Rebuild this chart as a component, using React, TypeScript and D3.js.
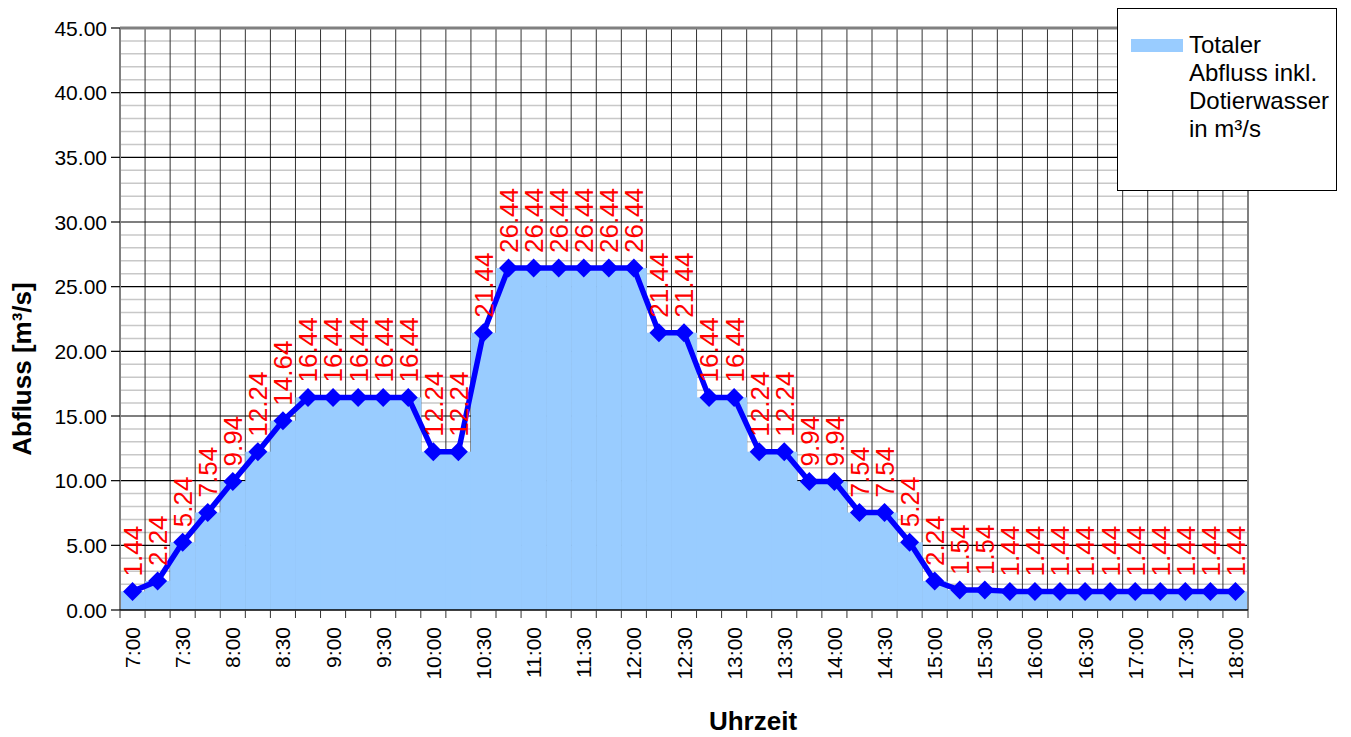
import React from "react";
import * as d3 from "d3";

const times = [
  "7:00", "7:15", "7:30", "7:45", "8:00", "8:15", "8:30", "8:45",
  "9:00", "9:15", "9:30", "9:45", "10:00", "10:15", "10:30", "10:45",
  "11:00", "11:15", "11:30", "11:45", "12:00", "12:15", "12:30", "12:45",
  "13:00", "13:15", "13:30", "13:45", "14:00", "14:15", "14:30", "14:45",
  "15:00", "15:15", "15:30", "15:45", "16:00", "16:15", "16:30", "16:45",
  "17:00", "17:15", "17:30", "17:45", "18:00",
];

const abfluss = [
  1.44, 2.24, 5.24, 7.54, 9.94, 12.24, 14.64, 16.44,
  16.44, 16.44, 16.44, 16.44, 12.24, 12.24, 21.44, 26.44,
  26.44, 26.44, 26.44, 26.44, 26.44, 21.44, 21.44, 16.44,
  16.44, 12.24, 12.24, 9.94, 9.94, 7.54, 7.54, 5.24,
  2.24, 1.54, 1.54, 1.44, 1.44, 1.44, 1.44, 1.44,
  1.44, 1.44, 1.44, 1.44, 1.44,
];

const xTickLabels = [
  "7:00", "7:30", "8:00", "8:30", "9:00", "9:30", "10:00", "10:30",
  "11:00", "11:30", "12:00", "12:30", "13:00", "13:30", "14:00", "14:30",
  "15:00", "15:30", "16:00", "16:30", "17:00", "17:30", "18:00",
];

const yMajorTicks = [0, 5, 10, 15, 20, 25, 30, 35, 40, 45];
const yMinorTicks = d3.range(0, 46, 1);

const legendLines = ["Totaler", "Abfluss inkl.", "Dotierwasser", "in m³/s"];

const W = 1351;
const H = 737;
const L = 120;
const R = 1248;
const T = 28;
const B = 610;
const FONT = "'Liberation Sans', Arial, sans-serif";

export default function App() {
  const x = d3.scaleBand<string>().domain(times).range([L, R]).padding(0);
  const y = d3.scaleLinear().domain([0, 45]).range([B, T]);
  const bw = x.bandwidth();
  const cx = (t: string) => (x(t) as number) + bw / 2;

  const line = d3
    .line<number>()
    .x((_, i) => cx(times[i]))
    .y((d) => y(d));

  const boundaries = times.map((t) => x(t) as number).concat([R]);

  return (
    <svg
      width={W}
      height={H}
      style={{ position: "absolute", left: 0, top: 0, display: "block", background: "#fff" }}
      fontFamily={FONT}
    >
      {/* minor horizontal gridlines */}
      {yMinorTicks
        .filter((v) => v % 5 !== 0)
        .map((v) => (
          <line key={"mn" + v} x1={L} x2={R} y1={y(v)} y2={y(v)} stroke="#c8c8c8" strokeWidth={1.5} />
        ))}
      {/* vertical gridlines */}
      {boundaries.slice(1, -1).map((bx, i) => (
        <line key={"vg" + i} x1={bx} x2={bx} y1={T} y2={B} stroke="#333" strokeWidth={1} />
      ))}
      {/* major horizontal gridlines */}
      {yMajorTicks
        .filter((v) => v !== 0 && v !== 45)
        .map((v) => (
          <line key={"mj" + v} x1={L} x2={R} y1={y(v)} y2={y(v)} stroke="#000" strokeWidth={1.2} />
        ))}

      {/* area as stepped columns */}
      {abfluss.map((v, i) => (
        <rect
          key={"a" + i}
          x={x(times[i]) as number}
          y={y(v)}
          width={bw + 0.5}
          height={B - y(v)}
          fill="#99CCFF"
        />
      ))}

      {/* plot border */}
      <line x1={L} x2={R} y1={T} y2={T} stroke="#808080" strokeWidth={3} />
      <line x1={R} x2={R} y1={T} y2={B} stroke="#808080" strokeWidth={2} />
      <line x1={L} x2={L} y1={T} y2={B} stroke="#808080" strokeWidth={2} />
      <line x1={L} x2={R} y1={B} y2={B} stroke="#000" strokeWidth={1.5} />

      {/* y ticks */}
      {yMajorTicks.map((v) => (
        <g key={"yt" + v}>
          <line x1={L - 9} x2={L} y1={y(v)} y2={y(v)} stroke="#000" strokeWidth={1.2} />
          <text x={L - 13} y={y(v)} dy="0.36em" textAnchor="end" fontSize={21} fill="#000">
            {v.toFixed(2)}
          </text>
        </g>
      ))}

      {/* x ticks */}
      {boundaries.map((bx, i) => (
        <line key={"xt" + i} x1={bx} x2={bx} y1={B} y2={B + 8} stroke="#333" strokeWidth={1} />
      ))}
      {xTickLabels.map((t) => (
        <text
          key={"xl" + t}
          transform={`translate(${cx(t)},${B + 17}) rotate(-90)`}
          dy="0.36em"
          textAnchor="end"
          fontSize={21}
          fill="#000"
        >
          {t}
        </text>
      ))}

      {/* line */}
      <path d={line(abfluss) as string} fill="none" stroke="#0000FF" strokeWidth={5.5} strokeLinejoin="round" />
      {abfluss.map((v, i) => {
        const px = cx(times[i]);
        const py = y(v);
        const s = 9.5;
        return (
          <path
            key={"m" + i}
            d={`M${px},${py - s}L${px + s},${py}L${px},${py + s}L${px - s},${py}Z`}
            fill="#0000FF"
          />
        );
      })}

      {/* data labels */}
      {abfluss.map((v, i) => (
        <text
          key={"dl" + i}
          transform={`translate(${cx(times[i])},${y(v) - 15}) rotate(-90)`}
          dy="0.36em"
          textAnchor="start"
          fontSize={26}
          fill="#FF0000"
        >
          {v.toFixed(2)}
        </text>
      ))}

      {/* axis titles */}
      <text
        transform={`translate(22,369) rotate(-90)`}
        dy="0.36em"
        textAnchor="middle"
        fontSize={26}
        fontWeight="bold"
        fill="#000"
      >
        Abfluss [m³/s]
      </text>
      <text x={753} y={730} textAnchor="middle" fontSize={26} fontWeight="bold" fill="#000">
        Uhrzeit
      </text>

      {/* legend */}
      <rect x={1117.5} y={8.5} width={219} height={182} fill="#fff" stroke="#000" strokeWidth={1} />
      <rect x={1131} y={39} width={52} height={13} fill="#99CCFF" />
      {legendLines.map((s, i) => (
        <text key={"lg" + i} x={1189} y={53 + i * 28} fontSize={24} fill="#000">
          {s}
        </text>
      ))}
    </svg>
  );
}
